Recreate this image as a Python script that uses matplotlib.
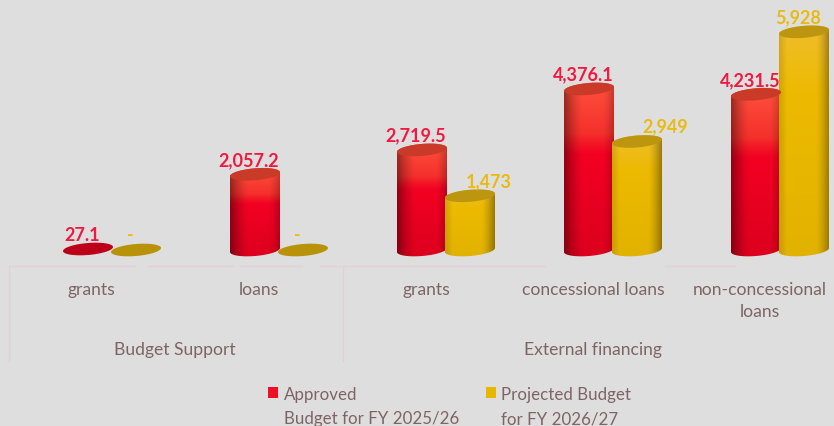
import numpy as np
import matplotlib
matplotlib.use("Agg")
import matplotlib.pyplot as plt
from matplotlib.patches import Rectangle, PathPatch
from matplotlib.path import Path

plt.rcParams['font.family'] = ['Lato', 'DejaVu Sans']

W, H = 834, 427

# Data in millions, zero is printed as a dash
categories = ['grants', 'loans', 'grants', 'concessional loans', 'non-concessional\nloans']
groups = ['Budget Support', 'External financing']
approved = [27.1, 2057.2, 2719.5, 4376.1, 4231.5]
projected = [0, 0, 1473, 2949, 5928]
approved_labels = ['27.1', '2,057.2', '2,719.5', '4,376.1', '4,231.5']
projected_labels = ['-', '-', '1,473', '2,949', '5,928']
legend_labels = ['Approved\nBudget for FY 2025/26', 'Projected Budget\nfor FY 2026/27']

BG = '#dfdede'
TEXT = '#7d6468'
RED = '#f0193f'
GOLD = '#e8bb14'
LINE = '#e3d0d4'

# Layout, pixels of the reference
PX_PER_CAT = 167.0
PX_PER_UNIT = 0.0368
FIRST_GROUP_X = 112
BASE_Y = 251
OFFSET = 24 / PX_PER_CAT
HALF_W = 25 / PX_PER_CAT
CAP_H = 6 / PX_PER_UNIT
TILT = 2 / PX_PER_UNIT
# label shift for the projected bars, in pixels
projected_dx = [-6, -6, 19, 28, -6]
rule_segments = [(9, 135), (148, 233), (240, 302), (320, 545), (665, 735)]


def fx(px):
    return px / W


def fy(py):
    return 1 - py / H


def shade(kind, nx=60, ny=160):
    # cylinder colours: light band on top for the red one, dark edges on both
    u = np.linspace(-1, 1, nx)
    t = np.linspace(0, 1, ny)[:, None]
    if kind == 'red':
        upper = np.array([255, 82, 62]) + (t / 0.4) * np.array([-15, -45, -25])
        lower = np.array([245, 0, 35]) + ((t - 0.36) / 0.64) * np.array([-25, 0, -5])
        mix = np.clip((t - 0.30) / 0.12, 0, 1)
        col = upper * (1 - mix) + lower * mix
        edge = 1 - 0.40 * np.clip((-u - 0.25) / 0.75, 0, 1) ** 1.5 - 0.22 * np.clip((u - 0.55) / 0.45, 0, 1) ** 1.5
    else:
        upper = np.array([240, 190, 45]) + (t / 0.3) * np.array([-4, -4, -45])
        lower = np.array([236, 186, 0]) + ((t - 0.3) / 0.7) * np.array([-10, -8, 0])
        col = np.where(t < 0.3, upper, lower)
        edge = 1 - 0.12 * np.clip((-u - 0.7) / 0.3, 0, 1) - 0.35 * np.clip((u - 0.45) / 0.55, 0, 1) ** 1.5
    return np.clip(col[:, None, :] * edge[None, :, None] / 255, 0, 1)


def ellipse(x, y, n=80):
    a = np.linspace(0, 2 * np.pi, n)
    return x + HALF_W * np.cos(a), y + CAP_H * np.sin(a) + TILT * np.cos(a)


def cylinder(ax, x, value, kind):
    flat, cap = ('#bd0019', '#c93a28') if kind == 'red' else ('#b8930a', '#bd9610')
    if value < 100:
        ex, ey = ellipse(x, value)
        ax.fill(ex, ey, color=flat, lw=0, zorder=3)
        return
    # body outline: down the left side, along the lower half, up the right side
    a = np.linspace(np.pi, 2 * np.pi, 40)
    bx = x + HALF_W * np.cos(a)
    by = CAP_H * np.sin(a) + TILT * np.cos(a)
    verts = [(x - HALF_W, value - TILT)] + list(zip(bx, by)) + [(x + HALF_W, value + TILT)]
    a = np.linspace(0, np.pi, 40)
    verts += list(zip(x + HALF_W * np.cos(a), value + CAP_H * np.sin(a) + TILT * np.cos(a)))
    patch = PathPatch(Path(verts + [verts[0]], closed=True), transform=ax.transData, fc='none', ec='none')
    ax.add_patch(patch)
    top = value + CAP_H + TILT
    bottom = -CAP_H - TILT
    im = ax.imshow(shade(kind), extent=[x - HALF_W, x + HALF_W, bottom, top], aspect='auto',
                   origin='upper', zorder=3, interpolation='bilinear')
    im.set_clip_path(patch)
    ex, ey = ellipse(x, value)
    ax.fill(ex, ey, color=cap, lw=0, zorder=3.1)


fig = plt.figure(figsize=(W / 100, H / 100), dpi=100, facecolor=BG)
ax = fig.add_axes([0, 0, 1, 1])
ax.set_facecolor(BG)
ax.axis('off')

x = np.arange(len(categories))
for i in x:
    cylinder(ax, i - OFFSET, approved[i], 'red')
    cylinder(ax, i + OFFSET, projected[i], 'gold')
    ax.annotate(approved_labels[i], (i - OFFSET, approved[i]), xytext=(-6 * 0.72, 15 * 0.72),
                textcoords='offset points', ha='center', va='center', color=RED,
                fontsize=13, fontweight='bold', zorder=5)
    ax.annotate(projected_labels[i], (i + OFFSET, projected[i]),
                xytext=(projected_dx[i] * 0.72, 15.5 * 0.72), textcoords='offset points',
                ha='center', va='center', color=GOLD, fontsize=13, fontweight='bold', zorder=5)

ax.set_xlim(-FIRST_GROUP_X / PX_PER_CAT, (W - FIRST_GROUP_X) / PX_PER_CAT)
ax.set_ylim(-(H - BASE_Y) / PX_PER_UNIT, BASE_Y / PX_PER_UNIT)

# category table under the bars
tr = ax.transAxes
for x0, x1 in rule_segments:
    ax.plot([fx(x0), fx(x1)], [fy(266.5)] * 2, color=LINE, lw=1, transform=tr)
for px in (9, 343):
    ax.plot([fx(px)] * 2, [fy(266.5), fy(362)], color=LINE, lw=1, transform=tr)

cat_px = [91, 259, 426, 593, 760]
for name, px in zip(categories, cat_px):
    ax.text(fx(px), fy(282), name, transform=tr, ha='center', va='top', color=TEXT,
            fontsize=12.6, linespacing=1.5)
for name, px in zip(groups, (175, 593)):
    ax.text(fx(px), fy(350), name, transform=tr, ha='center', va='center', color=TEXT, fontsize=12.6)

# legend
for label, colour, sx, tx in zip(legend_labels, ('#ee0f26', '#e8b800'), (268, 486), (284, 501)):
    ax.add_patch(Rectangle((fx(sx), fy(399)), 10 / W, 11 / H, transform=tr, fc=colour, ec='none'))
    ax.text(fx(tx), fy(387), label, transform=tr, ha='left', va='top', color=TEXT,
            fontsize=12.2, linespacing=1.65)

fig.savefig('out.png', dpi=100, facecolor=BG)
